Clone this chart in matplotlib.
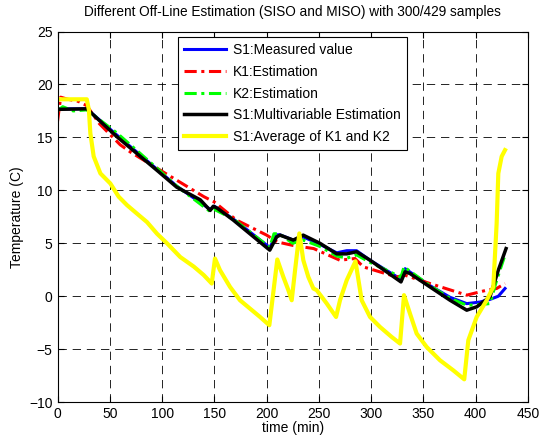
import matplotlib
matplotlib.use("Agg")
import matplotlib.pyplot as plt

plt.rcParams["font.family"] = ["Liberation Sans", "DejaVu Sans"]

# S1: measured value
t_blue = [0, 28, 57, 95, 114, 146, 150, 168, 203, 209.6, 212.8, 225.5, 235, 251, 267, 276.6, 286,
          298.9, 328.5, 332.4, 356.2, 375.4, 391.4, 404, 413.6, 421.6, 428]
v_blue = [17.7, 17.7, 15.2, 12.0, 10.4, 8.2, 8.5, 7.3, 4.6, 5.8, 5.8, 5.3, 5.6, 4.9, 4.1, 4.3, 4.3,
          3.4, 1.6, 2.6, 1.0, -0.1, -0.7, -0.55, -0.3, 0.0, 0.73]

# K1: estimation
t_red = [0, 3, 10, 20, 28, 40, 60, 70, 100, 130, 140, 150, 171, 200, 210, 225, 245, 270, 284.5,
         292.5, 324.4, 332.4, 356.2, 381.8, 391.4, 410.5, 420, 428]
v_red = [16.5, 18.8, 18.6, 18.4, 18.0, 16.3, 14.3, 13.6, 11.8, 10.0, 9.4, 8.9, 7.2, 5.77, 5.13, 4.8, 4.5, 3.4, 3.56,
         2.77, 1.82, 1.98, 1.2, 0.4, 0.1, 0.57, 0.73, 1.2]

# K2: estimation
t_green = [0, 5, 15, 28, 57, 95, 114, 146, 150, 168, 203, 207, 212, 225, 235, 251, 267, 277, 286,
           298.9, 328.5, 331.4, 356.2, 375.4, 391.4, 404, 413.6, 420, 428]
v_green = [17.5, 17.9, 17.5, 17.6, 15.4, 12.1, 10.4, 8.0, 8.2, 7.3, 4.6, 5.9, 5.9, 5.0, 5.3, 4.7, 3.8, 3.6, 3.9,
           3.2, 1.8, 2.77, 1.0, -0.2, -0.85, -0.8, -0.69, 1.5, 3.9]

# S1: multivariable estimation
t_black = [0, 28, 57, 95, 114, 136.6, 146, 149, 153, 168, 203, 209.6, 212.8, 225.5, 235, 251, 267, 276.6,
           286, 289.3, 298.9, 328.5, 332.4, 337, 356.2, 375.4, 391.4, 401, 413.6, 421.6, 429]
v_black = [17.65, 17.7, 15.05, 11.9, 10.3, 9.1, 8.1, 8.5, 8.3, 7.2, 4.35, 5.6, 5.77, 5.3, 5.77, 5.0, 4.0, 4.0,
           4.2, 4.0, 3.4, 1.35, 2.3, 2.15, 0.88, -0.38, -1.32, -1.0, -0.06, 2.46, 4.5]

# S1: average of K1 and K2
t_yellow = [0, 28, 30, 31.4, 34.6, 41, 50.5, 58.5, 66.5, 76, 85.6, 95.2, 104.7, 117.4, 130.3, 139.8,
            147.5, 150.6, 155.4, 165, 174.5, 184, 193.7, 202.6, 210.2, 216, 220.8, 224, 227.2, 231.3,
            235.1, 239.9, 244.7, 247.9, 257.5, 266.4, 270.2, 276.6, 285, 290.9, 298.9, 308.4, 319.6,
            327.6, 331.4, 337.1, 343.5, 353.1, 365.8, 378.5, 389, 392.9, 400.9, 410.5, 416.8, 420,
            421.6, 424.8, 428]
v_yellow = [18.6, 18.6, 17.6, 15.4, 13.2, 11.6, 10.65, 9.4, 8.6, 7.8, 7.0, 5.9, 5.0, 3.7, 2.8, 2.0,
            1.2, 3.56, 2.46, 0.88, -0.38, -1.16, -1.96, -2.74, 3.47, 1.82, 0.57, -0.38, 2.46, 5.93,
            3.4, 1.82, 0.73, 0.57, -0.69, -1.96, -0.38, 1.51, 3.3, -0.38, -1.96, -2.9, -3.85,
            -4.47, 0.1, -1.64, -3.53, -4.8, -6.05, -7.0, -7.85, -4.16, -1.96, -0.38, 0.88, 6.87,
            11.6, 13.2, 13.8]

labels = ["S1:Measured value", "K1:Estimation", "K2:Estimation",
          "S1:Multivariable Estimation", "S1:Average of K1 and K2"]

fig = plt.figure(figsize=(5.4, 4.38), dpi=100)
ax = fig.add_axes([0.1065, 0.082, 0.8713, 0.846])

ax.plot(t_blue, v_blue, color="#0000ff", lw=2.2, label=labels[0])
ax.plot(t_red, v_red, color="#ff0000", lw=2.2, ls=(0, (4, 1.5, 1, 1.5)), label=labels[1])
ax.plot(t_green, v_green, color="#00ff00", lw=2.2, ls=(0, (4, 1.5, 1, 1.5)), label=labels[2])
ax.plot(t_black, v_black, color="black", lw=2.5, label=labels[3])
ax.plot(t_yellow, v_yellow, color="#ffff00", lw=3, label=labels[4])

ax.set_xlim(0, 450)
ax.set_ylim(-10, 25)
ax.set_xticks(range(0, 451, 50))
ax.set_yticks(range(-10, 26, 5))
ax.grid(True, color="black", ls=(0, (10, 7)), lw=0.6)
ax.tick_params(direction="in", top=True, right=True, labelsize=10, length=4)
for s in ax.spines.values():
    s.set_linewidth(0.8)

ax.set_xlabel("time (min)", fontsize=10, labelpad=0)
ax.set_ylabel("Temperature (C)", fontsize=10)
ax.set_title("Different Off-Line Estimation (SISO and MISO) with 300/429 samples", fontsize=9.8, pad=11)

leg = ax.legend(loc="upper left", bbox_to_anchor=(0.256, 0.985), fontsize=10, fancybox=False,
                framealpha=1, edgecolor="black", handlelength=3.0, borderpad=0.45,
                labelspacing=0.55, handletextpad=0.5, borderaxespad=0)
leg.get_frame().set_linewidth(0.8)

fig.savefig("out.png", dpi=100)
